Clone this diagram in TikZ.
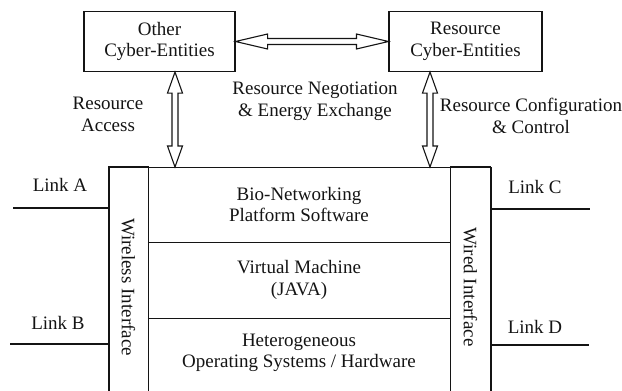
\documentclass[tikz,border=0pt]{standalone}
\usepackage{fontspec}
\setmainfont{Liberation Serif}
\usetikzlibrary{calc,positioning}
\definecolor{ink}{HTML}{141414}
\tikzset{
  basebox/.style={draw=ink,line width=1.1pt,align=center,inner sep=0pt,text=ink},
  frame/.style={line width=1.1pt,draw=ink},
  note/.style={align=center,text=ink,inner sep=0pt},
  fatarrow/.style={frame,fill=white,line join=miter,to path={
    -- ($(\tikztostart)!#1!(\tikztotarget)!7.5pt!90:(\tikztotarget)$)
    -- ($(\tikztostart)!#1!(\tikztotarget)!3pt!90:(\tikztotarget)$)
    -- ($(\tikztotarget)!#1!(\tikztostart)!3pt!-90:(\tikztostart)$)
    -- ($(\tikztotarget)!#1!(\tikztostart)!7.5pt!-90:(\tikztostart)$)
    -- (\tikztotarget)
    -- ($(\tikztotarget)!#1!(\tikztostart)!7.5pt!90:(\tikztostart)$)
    -- ($(\tikztotarget)!#1!(\tikztostart)!3pt!90:(\tikztostart)$)
    -- ($(\tikztostart)!#1!(\tikztotarget)!3pt!-90:(\tikztotarget)$)
    -- ($(\tikztostart)!#1!(\tikztotarget)!7.5pt!-90:(\tikztotarget)$)
    -- cycle}}
}

\begin{document}
\begin{tikzpicture}[x=1pt,y=-1pt,font=\fontsize{19}{21.5}\selectfont,
    entity/.style={basebox,minimum width=151pt,minimum height=60pt},
    layer/.style={note,minimum width=302pt},
    side/.style={basebox,rotate=-90,minimum width=240pt,minimum height=40pt}
  ]
  \useasboundingbox (0,0) rectangle (622,391);
  \node[entity] (other) at (159.5,41.5) {Other\\Cyber-Entities};
  \node[entity,minimum width=153pt] (res) at (465.5,41.5) {Resource\\Cyber-Entities};
  \node[basebox,anchor=north west,minimum width=382pt,minimum height=240pt] (host) at (109,167) {};
  \node[side] (wless) at (128.5,287) {Wireless Interface};
  \node[side] (wired) at (470.5,287) {Wired Interface};
  \node[layer,minimum height=75pt] (bio) at (299,204.5) {Bio-Networking\\Platform Software};
  \node[layer,minimum height=76pt] (vm) at (299,280) {Virtual Machine\\(JAVA)};
  \node[layer] (os) at (299,353) {Heterogeneous\\Operating Systems / Hardware};
  \draw[frame] (bio.south west) -- (bio.south east);
  \draw[frame] (vm.south west) -- (vm.south east);

  \node[note] (linkA) at (60,185) {Link A};
  \node[note] (linkB) at (58,323) {Link B};
  \node[note] (linkC) at (535,187) {Link C};
  \node[note] (linkD) at (535,327) {Link D};
  \coordinate (la) at (13,208);
  \coordinate (lb) at (10,344);
  \coordinate (lc) at (590,209);
  \coordinate (ld) at (589,345);
  \draw[frame] (la) -- (la -| host.west);
  \draw[frame] (lb) -- (lb -| host.west);
  \draw[frame] (host.east |- lc) -- (lc);
  \draw[frame] (host.east |- ld) -- (ld);

  \coordinate (accL) at (175,167);
  \coordinate (accR) at (430,167);
  \draw[fatarrow=32pt] (other.east) to (res.west);
  \draw[fatarrow=21pt] (other.south -| accL) to (accL);
  \draw[fatarrow=21pt] (res.south -| accR) to (accR);

  \node[note] (access) at (108,114.5) {Resource\\Access};
  \node[note] (nego) at (315,101.5) {Resource Negotiation\\\& Energy Exchange};
  \node[note] (config) at (531,116) {Resource Configuration\\\& Control};
\end{tikzpicture}
\end{document}
